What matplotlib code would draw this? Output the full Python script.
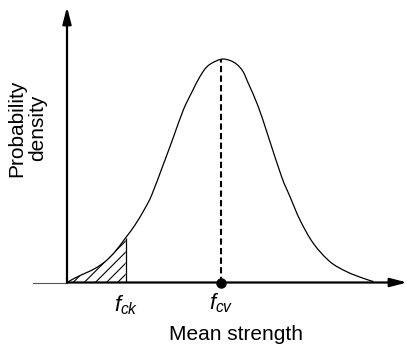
import numpy as np
import matplotlib
matplotlib.use("Agg")
import matplotlib.pyplot as plt
from matplotlib.path import Path
from matplotlib.patches import PathPatch

plt.rcParams['font.family'] = ['Liberation Sans', 'DejaVu Sans']
plt.rcParams['mathtext.fontset'] = 'custom'
plt.rcParams['mathtext.it'] = 'Liberation Sans:italic'
plt.rcParams['mathtext.rm'] = 'Liberation Sans'
plt.rcParams['hatch.linewidth'] = 0.8

# Curve (strength, probability density; arbitrary units)
strength = [0, 8, 18, 28, 38, 48, 58.7, 68, 78, 84.7, 96.3, 106.3, 116.3,
            124.7, 133, 141.3, 154, 163, 170, 176, 181.3, 191.3, 201.3,
            214.7, 223, 233, 246.3, 263, 279.7, 296.3, 306.3]
density = [0, 4.5, 9.2, 14, 20.8, 30.8, 44.8, 57.5, 74.2, 87.5, 118,
           145, 172.5, 190, 206, 217, 223.2, 222, 218, 211,
           199.2, 175.8, 146, 105.5, 85.8, 62.5, 39.2, 20.8, 10.8, 4.2, 1]

# Characteristic strength is the 7th point, mean strength is the peak
fck_idx = 6
fcv_idx = int(np.argmax(density))


def smooth_path(xs, ys):
    # Catmull-Rom style bezier through the points (rendering only)
    p = np.column_stack([xs, ys])
    verts = [p[0]]
    codes = [Path.MOVETO]
    n = len(p)
    for i in range(n - 1):
        p0 = p[max(i - 1, 0)]
        p1, p2 = p[i], p[i + 1]
        p3 = p[min(i + 2, n - 1)]
        verts += [p1 + (p2 - p0) / 6, p2 - (p3 - p1) / 6, p2]
        codes += [Path.CURVE4] * 3
    return Path(verts, codes)


fig = plt.figure(figsize=(4.07, 3.51), dpi=100)
W, H = 407, 351
ax = fig.add_axes([67 / W, (H - 282.5) / H, (W - 67) / W, (282.5 - 7) / H])
ax.set_xlim(0, 340)
ax.set_ylim(0, 275.5)
ax.set_axis_off()

# axes with arrow heads
arrow = dict(arrowstyle='-|>,head_length=1.0,head_width=0.26',
             mutation_scale=10, lw=1.6, color='k', shrinkA=0, shrinkB=0)
ax.annotate('', xy=(1, 0), xytext=(0, 0), xycoords='axes fraction',
            arrowprops=arrow)
ax.annotate('', xy=(0, 1), xytext=(0, 0), xycoords='axes fraction',
            arrowprops=arrow)
ax.plot([-34, 0], [0, 0], color='#555555', lw=0.8, clip_on=False)

# density curve
ax.add_patch(PathPatch(smooth_path(strength, density), facecolor='none',
                       edgecolor='k', lw=0.9, clip_on=False))

# shaded tail up to f_ck
ax.fill_between(strength[:fck_idx + 1], density[:fck_idx + 1], 0,
                facecolor='none', edgecolor='k', hatch='///', linewidth=0)
ax.vlines(strength[fck_idx], 0, density[fck_idx], color='k', lw=0.9)

# mean line
ax.plot([strength[fcv_idx]] * 2, [0, density[fcv_idx]], color='k',
        lw=1.5, linestyle=(0, (3, 1.6)))
ax.plot(strength[fcv_idx], 0, 'o', color='k', ms=6.5, clip_on=False, zorder=5)

# labels
ax.text(strength[fck_idx], -22.5, '$f_{ck}$', fontsize=16,
        ha='center', va='center')
ax.text(strength[fcv_idx], -20.5, '$f_{cv}$', fontsize=16,
        ha='center', va='center')
fig.text(236 / W, 1 - 335 / H, 'Mean strength', fontsize=15,
         ha='center', va='center')
fig.text(27 / W, 1 - 128 / H, 'Probability\ndensity', fontsize=15,
         rotation=90, ha='center', va='center', multialignment='center',
         linespacing=1.15)

fig.savefig("out.png", dpi=100)
